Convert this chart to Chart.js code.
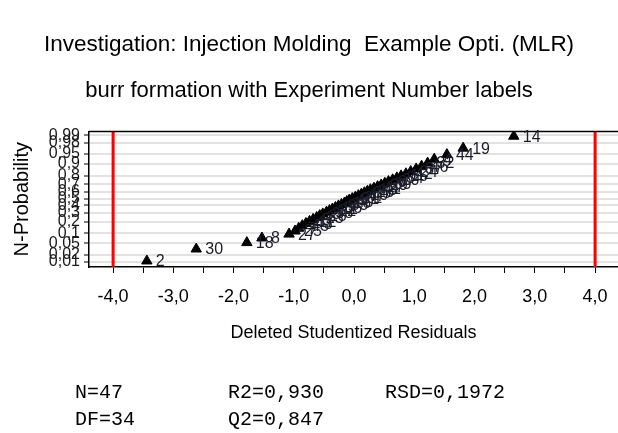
<!DOCTYPE html>
<html>
<head>
<meta charset="utf-8">
<script src="https://cdn.jsdelivr.net/npm/chart.js@4"></script>
<style>
  body { margin: 0; background: #fff; }
  #wrap { position: relative; width: 618px; height: 433px; }
  #npChart { display: block; }
  .stat { position: absolute; font: 20px "Liberation Mono", "Courier New", monospace; color: #000; line-height: 20px; white-space: pre; }
</style>
</head>
<body>
<div id="wrap">
  <canvas id="npChart" width="618" height="433"></canvas>
  <div class="stat" style="left:75px; top:383px;">N=47</div>
  <div class="stat" style="left:228px; top:383px;">R2=0,930</div>
  <div class="stat" style="left:385px; top:383px;">RSD=0,1972</div>
  <div class="stat" style="left:75px; top:410px;">DF=34</div>
  <div class="stat" style="left:228px; top:410px;">Q2=0,847</div>
</div>
<script>
// deleted studentized residuals, sorted
const residuals = [-3.44, -2.62, -1.78, -1.53, -1.08, -0.98, -0.92, -0.86, -0.80, -0.74,
                   -0.68, -0.62, -0.57, -0.52, -0.46, -0.41, -0.36, -0.31, -0.26, -0.21,
                   -0.16, -0.12, -0.08, -0.03, 0.02, 0.07, 0.12, 0.17, 0.22, 0.27,
                   0.33, 0.39, 0.45, 0.51, 0.57, 0.64, 0.71, 0.78, 0.86, 0.94,
                   1.03, 1.12, 1.22, 1.33, 1.54, 1.81, 2.65];
// N-probability of each point
const nProb = [0.011, 0.032, 0.053, 0.074, 0.096, 0.117, 0.138, 0.160, 0.181, 0.202,
               0.223, 0.245, 0.266, 0.287, 0.309, 0.330, 0.351, 0.372, 0.394, 0.415,
               0.436, 0.457, 0.479, 0.500, 0.521, 0.543, 0.564, 0.585, 0.606, 0.628,
               0.649, 0.670, 0.691, 0.713, 0.734, 0.755, 0.777, 0.798, 0.819, 0.840,
               0.862, 0.883, 0.904, 0.926, 0.947, 0.968, 0.989];
// experiment number labels
const expNo = [2, 30, 18, 8, 27, 25, 7, 45, 43, 12,
               5, 23, 28, 3, 38, 22, 11, 36, 9, 33,
               16, 40, 1, 31, 21, 47, 10, 35, 26, 13,
               41, 17, 29, 39, 6, 20, 34, 15, 42, 24,
               37, 46, 32, 4, 44, 19, 14];
const yTicks = [0.01, 0.02, 0.05, 0.1, 0.2, 0.3, 0.4, 0.5, 0.6, 0.7, 0.8, 0.9, 0.95, 0.98, 0.99];
const xLimits = [-4, 4];
const yMin = 0.006, yMax = 0.9932;

// inverse normal cdf (Acklam)
function probit(p) {
  const a = [-39.69683028665376, 220.9460984245205, -275.9285104469687, 138.3577518672690, -30.66479806614716, 2.506628277459239];
  const b = [-54.47609879822406, 161.5858368580409, -155.6989798598866, 66.80131188771972, -13.28068155288572];
  const c = [-0.007784894002430293, -0.3223964580411365, -2.400758277161838, -2.549732539343734, 4.374664141464968, 2.938163982698783];
  const d = [0.007784695709041462, 0.3224671290700398, 2.445134137142996, 3.754408661907416];
  const pl = 0.02425;
  let q, r;
  if (p < pl) {
    q = Math.sqrt(-2 * Math.log(p));
    return (((((c[0]*q+c[1])*q+c[2])*q+c[3])*q+c[4])*q+c[5]) / ((((d[0]*q+d[1])*q+d[2])*q+d[3])*q+1);
  }
  if (p > 1 - pl) {
    q = Math.sqrt(-2 * Math.log(1 - p));
    return -(((((c[0]*q+c[1])*q+c[2])*q+c[3])*q+c[4])*q+c[5]) / ((((d[0]*q+d[1])*q+d[2])*q+d[3])*q+1);
  }
  q = p - 0.5; r = q * q;
  return (((((a[0]*r+a[1])*r+a[2])*r+a[3])*r+a[4])*r+a[5])*q / (((((b[0]*r+b[1])*r+b[2])*r+b[3])*r+b[4])*r+1);
}

// normal probability scale
class ProbitScale extends Chart.Scale {
  determineDataLimits() {
    this.min = this.options.min;
    this.max = this.options.max;
  }
  buildTicks() {
    return yTicks.map(v => ({value: v}));
  }
  configure() {
    super.configure();
    this._zMin = probit(this.min);
    this._zRange = probit(this.max) - this._zMin;
  }
  getLabelForValue(v) { return String(v); }
  getPixelForValue(v) {
    return this.getPixelForDecimal((probit(v) - this._zMin) / this._zRange);
  }
  getPixelForTick(i) { return this.getPixelForValue(this.ticks[i].value); }
}
ProbitScale.id = 'probit';
ProbitScale.defaults = {};
Chart.register(ProbitScale);

const comma = v => String(v).replace('.', ',');

// point labels + top frame line
const extras = {
  id: 'extras',
  afterDatasetsDraw(chart) {
    const ctx = chart.ctx, area = chart.chartArea;
    ctx.save();
    ctx.strokeStyle = '#000';
    ctx.lineWidth = 1.5;
    ctx.beginPath();
    ctx.moveTo(area.left, area.top);
    ctx.lineTo(area.right, area.top);
    ctx.stroke();
    ctx.fillStyle = '#1c1c2a';
    ctx.font = '16px "Liberation Sans", Arial, sans-serif';
    ctx.textBaseline = 'middle';
    chart.getDatasetMeta(2).data.forEach((pt, i) => {
      ctx.fillText(String(expNo[i]), pt.x + 9, pt.y + 1);
    });
    ctx.restore();
  }
};

new Chart(document.getElementById('npChart'), {
  type: 'scatter',
  data: {
    datasets: [{
      data: [{x: xLimits[0], y: yMin}, {x: xLimits[0], y: yMax}],
      showLine: true, borderColor: '#ff0000', borderWidth: 3, pointRadius: 0
    }, {
      data: [{x: xLimits[1], y: yMin}, {x: xLimits[1], y: yMax}],
      showLine: true, borderColor: '#ff0000', borderWidth: 3, pointRadius: 0
    }, {
      data: residuals.map((r, i) => ({x: r, y: nProb[i]})),
      pointStyle: 'triangle',
      pointRadius: 6,
      backgroundColor: '#000',
      borderColor: '#000',
      borderWidth: 1
    }]
  },
  options: {
    responsive: false,
    animation: false,
    events: [],
    layout: {autoPadding: false, padding: {left: 0, right: 0, top: 0, bottom: 86}},
    plugins: {
      legend: {display: false},
      tooltip: {enabled: false},
      title: {
        display: true,
        text: 'Investigation: Injection Molding  Example Opti. (MLR)',
        color: '#000',
        font: {family: '"Liberation Sans", Arial, sans-serif', size: 22.5, weight: 'normal', lineHeight: 1.2},
        padding: {top: 31, bottom: 20}
      },
      subtitle: {
        display: true,
        text: 'burr formation with Experiment Number labels',
        color: '#000',
        font: {family: '"Liberation Sans", Arial, sans-serif', size: 22, weight: 'normal', lineHeight: 1.2},
        padding: {top: 0, bottom: 27}
      }
    },
    scales: {
      x: {
        type: 'linear',
        min: -4.4,
        max: 4.38,
        afterFit: s => { s.height = 80; },
        border: {color: '#000', width: 1.5},
        grid: {display: true, drawOnChartArea: false, drawTicks: true, tickLength: 6, tickColor: '#000', tickWidth: 1},
        ticks: {
          stepSize: 0.5,
          includeBounds: false,
          autoSkip: false,
          maxRotation: 0,
          padding: 0,
          color: '#000',
          font: {family: '"Liberation Sans", Arial, sans-serif', size: 18, lineHeight: 2.65},
          callback: v => Math.abs(v - Math.round(v)) < 1e-6 ? Math.round(v).toFixed(1).replace('.', ',') : ''
        },
        title: {
          display: true,
          text: 'Deleted Studentized Residuals',
          color: '#000',
          font: {family: '"Liberation Sans", Arial, sans-serif', size: 18},
          padding: {top: 0, bottom: 3}
        }
      },
      y: {
        type: 'probit',
        min: yMin,
        max: yMax,
        afterFit: s => { s.width = 89; },
        border: {color: '#000', width: 1.5},
        grid: {color: '#e2e2e2', lineWidth: 2, tickLength: 5, tickColor: '#000', tickWidth: 1},
        ticks: {
          autoSkip: false,
          padding: 4,
          color: '#1a1a1a',
          font: {family: '"Liberation Sans", Arial, sans-serif', size: 16},
          callback: v => comma(v)
        },
        title: {
          display: true,
          text: 'N-Probability',
          color: '#000',
          font: {family: '"Liberation Sans", Arial, sans-serif', size: 20},
          padding: {top: 10, bottom: 0}
        }
      }
    }
  },
  plugins: [extras]
});
</script>
</body>
</html>
